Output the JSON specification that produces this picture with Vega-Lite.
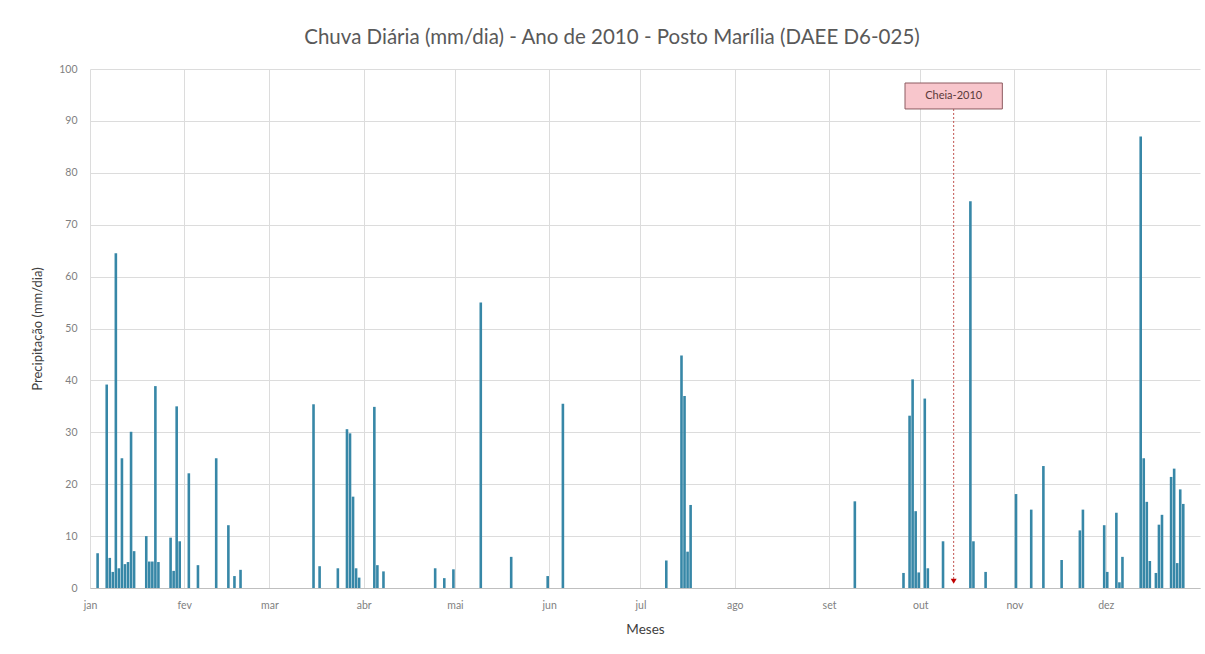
{
  "$schema": "https://vega.github.io/schema/vega-lite/v6.json",
  "autosize": "none",
  "width": 1110,
  "height": 519,
  "padding": {"left": 90, "top": 69, "right": 5, "bottom": 66},
  "background": "white",
  "title": {
    "text": "Chuva Diária (mm/dia) - Ano de 2010 - Posto Marília (DAEE D6-025)",
    "anchor": "middle",
    "frame": "group",
    "dx": -33,
    "offset": 16,
    "font": "Lato",
    "fontSize": 20.5,
    "fontWeight": "normal",
    "color": "#595959"
  },
  "datasets": {
    "chuva": [
      {"data": "2010-01-03T12:00:00Z", "mm": 6.7},
      {"data": "2010-01-06T12:00:00Z", "mm": 39.2},
      {"data": "2010-01-07T12:00:00Z", "mm": 5.8},
      {"data": "2010-01-08T12:00:00Z", "mm": 3.1},
      {"data": "2010-01-09T12:00:00Z", "mm": 64.5},
      {"data": "2010-01-10T12:00:00Z", "mm": 3.8},
      {"data": "2010-01-11T12:00:00Z", "mm": 25.0},
      {"data": "2010-01-12T12:00:00Z", "mm": 4.6},
      {"data": "2010-01-13T12:00:00Z", "mm": 5.0},
      {"data": "2010-01-14T12:00:00Z", "mm": 30.1},
      {"data": "2010-01-15T12:00:00Z", "mm": 7.1},
      {"data": "2010-01-19T12:00:00Z", "mm": 10.0},
      {"data": "2010-01-20T12:00:00Z", "mm": 5.1},
      {"data": "2010-01-21T12:00:00Z", "mm": 5.1},
      {"data": "2010-01-22T12:00:00Z", "mm": 38.9},
      {"data": "2010-01-23T12:00:00Z", "mm": 5.0},
      {"data": "2010-01-27T12:00:00Z", "mm": 9.7},
      {"data": "2010-01-28T12:00:00Z", "mm": 3.3},
      {"data": "2010-01-29T12:00:00Z", "mm": 35.0},
      {"data": "2010-01-30T12:00:00Z", "mm": 9.0},
      {"data": "2010-02-02T12:00:00Z", "mm": 22.1},
      {"data": "2010-02-05T12:00:00Z", "mm": 4.4},
      {"data": "2010-02-11T12:00:00Z", "mm": 25.0},
      {"data": "2010-02-15T12:00:00Z", "mm": 12.1},
      {"data": "2010-02-17T12:00:00Z", "mm": 2.3},
      {"data": "2010-02-19T12:00:00Z", "mm": 3.5},
      {"data": "2010-03-15T12:00:00Z", "mm": 35.4},
      {"data": "2010-03-17T12:00:00Z", "mm": 4.2},
      {"data": "2010-03-23T12:00:00Z", "mm": 3.8},
      {"data": "2010-03-26T12:00:00Z", "mm": 30.6},
      {"data": "2010-03-27T12:00:00Z", "mm": 29.8},
      {"data": "2010-03-28T12:00:00Z", "mm": 17.6},
      {"data": "2010-03-29T12:00:00Z", "mm": 3.8},
      {"data": "2010-03-30T12:00:00Z", "mm": 2.0},
      {"data": "2010-04-04T12:00:00Z", "mm": 34.9},
      {"data": "2010-04-05T12:00:00Z", "mm": 4.4},
      {"data": "2010-04-07T12:00:00Z", "mm": 3.2},
      {"data": "2010-04-24T12:00:00Z", "mm": 3.8},
      {"data": "2010-04-27T12:00:00Z", "mm": 1.9},
      {"data": "2010-04-30T12:00:00Z", "mm": 3.6},
      {"data": "2010-05-09T12:00:00Z", "mm": 55.0},
      {"data": "2010-05-19T12:00:00Z", "mm": 6.0},
      {"data": "2010-05-31T12:00:00Z", "mm": 2.3},
      {"data": "2010-06-05T12:00:00Z", "mm": 35.5},
      {"data": "2010-07-09T12:00:00Z", "mm": 5.3},
      {"data": "2010-07-14T12:00:00Z", "mm": 44.8},
      {"data": "2010-07-15T12:00:00Z", "mm": 37.0},
      {"data": "2010-07-16T12:00:00Z", "mm": 7.0},
      {"data": "2010-07-17T12:00:00Z", "mm": 16.0},
      {"data": "2010-09-09T12:00:00Z", "mm": 16.7},
      {"data": "2010-09-25T12:00:00Z", "mm": 2.9},
      {"data": "2010-09-27T12:00:00Z", "mm": 33.2},
      {"data": "2010-09-28T12:00:00Z", "mm": 40.2},
      {"data": "2010-09-29T12:00:00Z", "mm": 14.8},
      {"data": "2010-09-30T12:00:00Z", "mm": 3.0},
      {"data": "2010-10-02T12:00:00Z", "mm": 36.5},
      {"data": "2010-10-03T12:00:00Z", "mm": 3.8},
      {"data": "2010-10-08T12:00:00Z", "mm": 9.0},
      {"data": "2010-10-17T12:00:00Z", "mm": 74.5},
      {"data": "2010-10-18T12:00:00Z", "mm": 9.0},
      {"data": "2010-10-22T12:00:00Z", "mm": 3.1},
      {"data": "2010-11-01T12:00:00Z", "mm": 18.1},
      {"data": "2010-11-06T12:00:00Z", "mm": 15.1},
      {"data": "2010-11-10T12:00:00Z", "mm": 23.5},
      {"data": "2010-11-16T12:00:00Z", "mm": 5.4},
      {"data": "2010-11-22T12:00:00Z", "mm": 11.1},
      {"data": "2010-11-23T12:00:00Z", "mm": 15.1},
      {"data": "2010-11-30T12:00:00Z", "mm": 12.1},
      {"data": "2010-12-01T12:00:00Z", "mm": 3.1},
      {"data": "2010-12-04T12:00:00Z", "mm": 14.5},
      {"data": "2010-12-05T12:00:00Z", "mm": 1.1},
      {"data": "2010-12-06T12:00:00Z", "mm": 6.0},
      {"data": "2010-12-12T12:00:00Z", "mm": 87.0},
      {"data": "2010-12-13T12:00:00Z", "mm": 25.0},
      {"data": "2010-12-14T12:00:00Z", "mm": 16.6},
      {"data": "2010-12-15T12:00:00Z", "mm": 5.2},
      {"data": "2010-12-17T12:00:00Z", "mm": 2.9},
      {"data": "2010-12-18T12:00:00Z", "mm": 12.2},
      {"data": "2010-12-19T12:00:00Z", "mm": 14.1},
      {"data": "2010-12-22T12:00:00Z", "mm": 21.4},
      {"data": "2010-12-23T12:00:00Z", "mm": 23.0},
      {"data": "2010-12-24T12:00:00Z", "mm": 4.8},
      {"data": "2010-12-25T12:00:00Z", "mm": 19.0},
      {"data": "2010-12-26T12:00:00Z", "mm": 16.2}
    ],
    "marco": [
      {
        "data": "2010-10-12T00:00:00Z",
        "inicio": "2010-09-26T00:00:00Z",
        "fim": "2010-10-28T00:00:00Z",
        "topo": 97.3,
        "base": 92.3,
        "centro": 94.8,
        "seta": 1.3,
        "rotulo": "Cheia-2010"
      }
    ]
  },
  "layer": [
    {
      "data": {"name": "chuva"},
      "mark": {"type": "bar", "size": 2.6, "color": "#3787a7"},
      "encoding": {
        "x": {
          "field": "data",
          "type": "temporal",
          "title": "Meses",
          "scale": {
            "type": "utc",
            "padding": 0,
            "domain": [
              {"year": 2010, "month": 1, "date": 1, "utc": true},
              {"year": 2011, "month": 1, "date": 1, "utc": true}
            ]
          },
          "axis": {
            "values": [
              {"year": 2010, "month": 1, "date": 1, "utc": true},
              {"year": 2010, "month": 2, "date": 1, "utc": true},
              {"year": 2010, "month": 3, "date": 1, "utc": true},
              {"year": 2010, "month": 4, "date": 1, "utc": true},
              {"year": 2010, "month": 5, "date": 1, "utc": true},
              {"year": 2010, "month": 6, "date": 1, "utc": true},
              {"year": 2010, "month": 7, "date": 1, "utc": true},
              {"year": 2010, "month": 8, "date": 1, "utc": true},
              {"year": 2010, "month": 9, "date": 1, "utc": true},
              {"year": 2010, "month": 10, "date": 1, "utc": true},
              {"year": 2010, "month": 11, "date": 1, "utc": true},
              {"year": 2010, "month": 12, "date": 1, "utc": true}
            ],
            "labelExpr": "['jan','fev','mar','abr','mai','jun','jul','ago','set','out','nov','dez'][utcmonth(datum.value)]",
            "labelFlush": false,
            "labelAlign": "center",
            "grid": true,
            "gridColor": "#dcdcdc",
            "domainColor": "#bfbfbf",
            "ticks": false,
            "labelFont": "Lato",
            "labelFontSize": 10.5,
            "labelColor": "#7f7f7f",
            "labelPadding": 12,
            "titleFont": "Lato",
            "titleFontSize": 13.5,
            "titleFontWeight": "normal",
            "titleColor": "#404040",
            "titlePadding": 12
          }
        },
        "y": {
          "field": "mm",
          "type": "quantitative",
          "title": "Precipitação (mm/dia)",
          "scale": {"domain": [0, 100], "nice": false},
          "axis": {
            "values": [0, 10, 20, 30, 40, 50, 60, 70, 80, 90, 100],
            "grid": true,
            "gridColor": "#dcdcdc",
            "domain": false,
            "ticks": false,
            "labelFont": "Lato",
            "labelFontSize": 10.5,
            "labelColor": "#7f7f7f",
            "labelPadding": 13,
            "titleFont": "Lato",
            "titleFontSize": 13,
            "titleFontWeight": "normal",
            "titleColor": "#404040",
            "titlePadding": 14
          }
        }
      }
    },
    {
      "data": {"name": "marco"},
      "mark": {"type": "rule", "color": "#c0504d", "strokeWidth": 1, "strokeDash": [2, 2]},
      "encoding": {
        "x": {"field": "data", "type": "temporal", "title": "Meses"},
        "y": {"field": "base", "type": "quantitative", "title": "Precipitação (mm/dia)"},
        "y2": {"field": "seta"}
      }
    },
    {
      "data": {"name": "marco"},
      "mark": {"type": "point", "shape": "triangle-down", "size": 35, "filled": true, "color": "#c00000", "opacity": 1},
      "encoding": {
        "x": {"field": "data", "type": "temporal", "title": "Meses"},
        "y": {"field": "seta", "type": "quantitative", "title": "Precipitação (mm/dia)"}
      }
    },
    {
      "data": {"name": "marco"},
      "mark": {"type": "rect", "fill": "#f8c6cc", "stroke": "#8c5a60", "strokeWidth": 1},
      "encoding": {
        "x": {"field": "inicio", "type": "temporal", "title": "Meses"},
        "x2": {"field": "fim"},
        "y": {"field": "base", "type": "quantitative", "title": "Precipitação (mm/dia)"},
        "y2": {"field": "topo"}
      }
    },
    {
      "data": {"name": "marco"},
      "mark": {"type": "text", "font": "Lato", "fontSize": 11, "color": "#5a3a3a", "align": "center", "baseline": "middle"},
      "encoding": {
        "x": {"field": "data", "type": "temporal", "title": "Meses"},
        "y": {"field": "centro", "type": "quantitative", "title": "Precipitação (mm/dia)"},
        "text": {"field": "rotulo"}
      }
    }
  ],
  "config": {
    "font": "Lato",
    "view": {"stroke": null}
  }
}
